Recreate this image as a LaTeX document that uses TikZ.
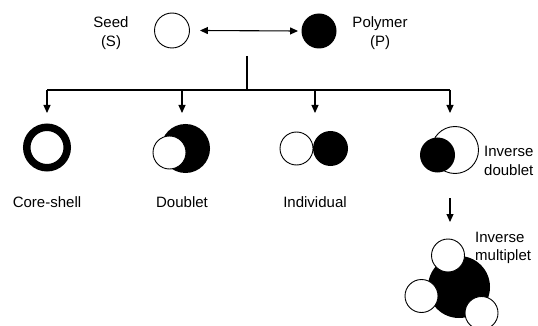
\documentclass[tikz,border=0pt]{standalone}
\usepackage{fontspec}
\setmainfont{Liberation Sans}
\usetikzlibrary{arrows.meta}
\begin{document}
\begin{tikzpicture}[x=1pt,y=-1pt,
  lbl/.style={font=\fontsize{15}{18.5}\selectfont, inner sep=0pt},
  conn/.style={line width=1.1pt},
  arr/.style={conn,-{Triangle[length=8pt,width=7pt]}},
  dbl/.style={conn,{Triangle[length=8pt,width=7pt]}-{Triangle[length=8pt,width=7pt]}},
  wc/.style={draw,fill=white,line width=0.9pt},
  bc/.style={fill=black},
  pnode/.style={circle,inner sep=0pt,minimum size=35pt,line width=0.9pt}]
\useasboundingbox (0,0) rectangle (538,326);
\clip (0,0) rectangle (538,326);
% top row
\node[pnode,draw,fill=white] (seed) at (172,30.5) {};
\node[pnode,fill=black] (poly) at (319,31) {};
\node[lbl,align=center] (seedlbl) at (111,33) {Seed\\(S)};
\node[lbl,align=center] (polylbl) at (380,33) {Polymer\\(P)};
\draw[dbl] ([xshift=10pt]seed.east) -- ([xshift=-3pt]poly.west);
% tree
\coordinate (top) at (247,56);
\coordinate (mid) at (247,90);
\coordinate (b1) at (47,90);
\coordinate (b2) at (182,90);
\coordinate (b3) at (315,90);
\coordinate (b4) at (450,90);
\coordinate (t1) at (47,113);
\coordinate (t2) at (182,113);
\coordinate (t3) at (315,113);
\coordinate (t4) at (450,113);
\draw[conn] (top) -- (mid);
\draw[conn] (b1) -- (b4);
\draw[arr] (b1) -- (t1);
\draw[arr] (b2) -- (t2);
\draw[arr] (b3) -- (t3);
\draw[arr] (b4) -- (t4);
% core-shell
\draw[line width=7.5pt] (47,147.5) circle (20.25pt);
\node[lbl] (cslbl) at (47,202) {Core-shell};
% doublet
\fill[bc] (185.5,148.5) circle (24.5pt);
\draw[wc] (169.5,152.5) circle (16.5pt);
\node[lbl] (dlbl) at (182,202) {Doublet};
% individual
\draw[wc] (296.5,148.5) circle (16.5pt);
\fill[bc] (330.5,148.5) circle (17.5pt);
\node[lbl] (ilbl) at (315,202) {Individual};
% inverse doublet
\draw[wc] (455,150) circle (23.5pt);
\fill[bc] (437.5,155) circle (17.5pt);
\node[lbl,align=left,anchor=west] (idlbl) at (484,161) {Inverse\\doublet};
% arrow to multiplet
\coordinate (m1) at (450,198);
\coordinate (m2) at (450,222);
\draw[arr] (m1) -- (m2);
% inverse multiplet
\fill[bc] (459,287) circle (31pt);
\draw[wc] (448,255.5) circle (16.5pt);
\draw[wc] (421.5,296) circle (16.5pt);
\draw[wc] (481.5,313) circle (16.5pt);
\node[lbl,align=left,anchor=west] (imlbl) at (475,248) {Inverse\\multiplet};
\end{tikzpicture}
\end{document}
